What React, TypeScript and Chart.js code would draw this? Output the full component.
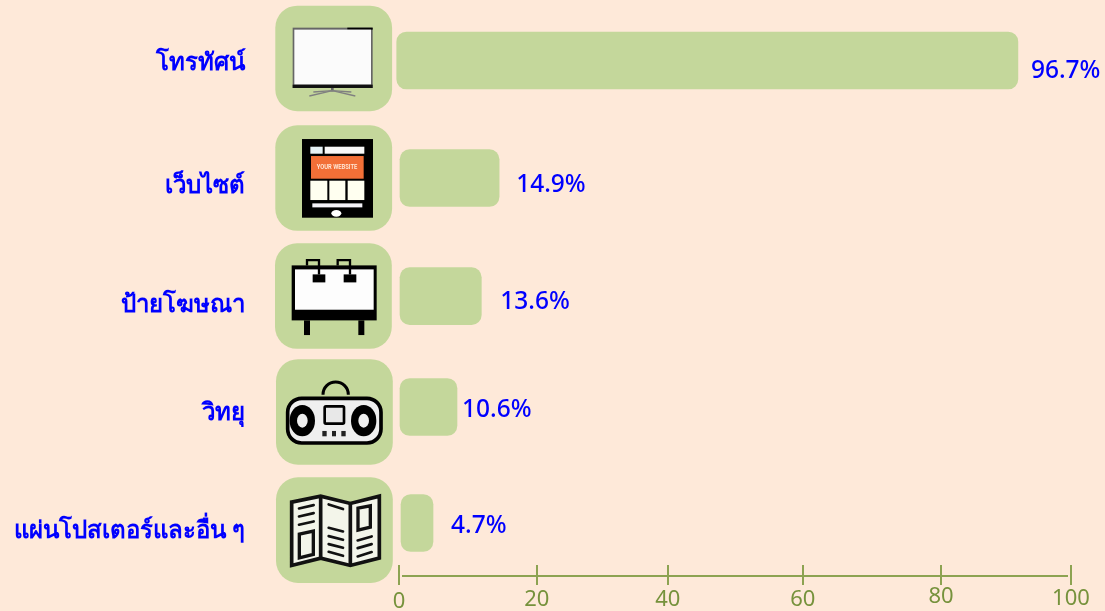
import React, { useEffect, useRef } from "react";
import { Chart, registerables } from "chart.js";

Chart.register(...registerables);

const categories = ["โทรทัศน์", "เว็บไซต์", "ป้ายโฆษณา", "วิทยุ", "แผ่นโปสเตอร์และอื่น ๆ"];
const valueLabels = ["96.7%", "14.9%", "13.6%", "10.6%", "4.7%"];
const barStarts = [-0.34, 0, 0, 0, 0.3];
const barEnds = [92.1, 14.9, 12.25, 8.63, 5.06];
const barRows = [0.017, 1.014, 2.015, 2.956, 3.94];
const tileRows = [0, 1.014, 2.015, 2.998, 4];
const labelRows = [0.042, 1.082, 2.091, 3.006, 4.008];
const axisTickValues = [0, 20.5, 40, 60.1, 80.65, 100];
const axisTickLabels = ["0", "20", "40", "60", "80", "100"];

const labelDx = [13, 17, 19, 5, 18];
const labelDy = [11, 7, 6, 3, 3];
const axisLabelDy = [2, 0, 0, 0, -3, -1];

const BG = "#FEE9D9";
const GREEN = "#C4D79B";
const AXIS = "#8DA352";
const AXIS_TEXT = "#76923C";
const FONT = "'Noto Sans', 'Open Sans', sans-serif";

type C = CanvasRenderingContext2D;

function poly(ctx: C, pts: number[][], close = false) {
  ctx.beginPath();
  pts.forEach((p, i) => (i ? ctx.lineTo(p[0], p[1]) : ctx.moveTo(p[0], p[1])));
  if (close) ctx.closePath();
}
function rect(ctx: C, x0: number, y0: number, x1: number, y1: number, color: string) {
  ctx.fillStyle = color;
  ctx.fillRect(x0, y0, x1 - x0, y1 - y0);
}

function drawTv(ctx: C) {
  rect(ctx, 68, 83, 308, 264, "#666");
  rect(ctx, 232, 83, 308, 89, "#000");
  rect(ctx, 73, 89, 303, 254, "#FBFBFB");
  rect(ctx, 68, 254, 308, 264, "#111");
  rect(ctx, 183, 264, 191, 274, "#666");
  ctx.strokeStyle = "#808080";
  ctx.lineWidth = 4;
  poly(ctx, [[118, 288], [187, 272], [256, 288]]);
  ctx.stroke();
  poly(ctx, [[130, 276], [187, 272], [244, 276]]);
  ctx.stroke();
}

function drawTablet(ctx: C) {
  rect(ctx, 96, 417, 309, 653, "#000");
  rect(ctx, 121, 440, 158, 461, "#E6F2F6");
  rect(ctx, 164, 440, 283, 461, "#F8F8F8");
  rect(ctx, 123, 468, 281, 536, "#F26F37");
  rect(ctx, 121, 542, 172, 600, "#FFFFF0");
  rect(ctx, 178, 542, 226, 600, "#FFFFF0");
  rect(ctx, 233, 542, 283, 600, "#FFFFF0");
  rect(ctx, 127, 610, 277, 622, "#F4F2F8");
  ctx.fillStyle = "#FFF";
  ctx.beginPath();
  ctx.ellipse(199, 640, 15, 10, 0, 0, Math.PI * 2);
  ctx.fill();
  ctx.fillStyle = "#FFE9D8";
  ctx.font = "600 20px 'Liberation Sans Narrow', 'Roboto', sans-serif";
  ctx.textAlign = "center";
  ctx.textBaseline = "middle";
  ctx.fillText("YOUR WEBSITE", 201, 502, 122);
}

function drawBillboard(ctx: C) {
  rect(ctx, 65, 91, 320, 256, "#000");
  rect(ctx, 75, 103, 311, 224, "#FDFDFD");
  rect(ctx, 102, 256, 120, 300, "#000");
  rect(ctx, 265, 256, 283, 300, "#000");
  ctx.strokeStyle = "#000";
  ctx.lineWidth = 7;
  poly(ctx, [[111, 91], [111, 75], [147, 75], [147, 118]]);
  ctx.stroke();
  poly(ctx, [[203, 91], [203, 75], [240, 75], [240, 118]]);
  ctx.stroke();
  rect(ctx, 128, 118, 166, 142, "#000");
  rect(ctx, 221, 118, 259, 142, "#000");
}

function drawRadio(ctx: C) {
  ctx.strokeStyle = "#000";
  ctx.lineWidth = 9;
  ctx.beginPath();
  ctx.arc(197, 479, 38, Math.PI, 0);
  ctx.stroke();
  ctx.fillStyle = "#EFEFEF";
  ctx.lineWidth = 11;
  ctx.beginPath();
  ctx.roundRect(53, 490, 280, 134, 42);
  ctx.fill();
  ctx.stroke();
  for (const cx of [97, 281]) {
    ctx.fillStyle = "#000";
    ctx.beginPath();
    ctx.ellipse(cx, 557, 38, 47, 0, 0, Math.PI * 2);
    ctx.fill();
    ctx.fillStyle = "#EFEFEF";
    ctx.beginPath();
    ctx.ellipse(cx, 557, 16, 21, 0, 0, Math.PI * 2);
    ctx.fill();
  }
  ctx.lineWidth = 8;
  ctx.fillStyle = "#E8E8E8";
  ctx.beginPath();
  ctx.roundRect(164, 514, 58, 52, 4);
  ctx.fill();
  ctx.stroke();
  rect(ctx, 157, 588, 170, 604, "#222");
  rect(ctx, 186, 588, 198, 604, "#222");
  rect(ctx, 214, 588, 227, 604, "#222");
}

function drawMap(ctx: C) {
  ctx.lineJoin = "miter";
  ctx.strokeStyle = "#111";
  ctx.fillStyle = "#F3F5EA";
  ctx.lineWidth = 11;
  poly(ctx, [[65, 96], [152, 78], [241, 100], [328, 78], [328, 264], [241, 286], [152, 264], [65, 286]], true);
  ctx.fill();
  ctx.stroke();
  poly(ctx, [[152, 78], [152, 264]]);
  ctx.stroke();
  poly(ctx, [[241, 100], [241, 286]]);
  ctx.stroke();
  ctx.lineCap = "round";
  ctx.lineWidth = 8;
  const lines = [
    [87, 115, 131, 105], [87, 139, 131, 129], [87, 164, 131, 154],
    [176, 103, 219, 117], [176, 173, 219, 184], [176, 198, 219, 209], [176, 222, 219, 233], [176, 245, 219, 257],
    [263, 211, 305, 199], [263, 234, 305, 222], [263, 259, 305, 246],
  ];
  for (const l of lines) {
    poly(ctx, [[l[0], l[1]], [l[2], l[3]]]);
    ctx.stroke();
  }
  ctx.lineWidth = 10;
  poly(ctx, [[88, 192], [130, 183], [130, 253], [88, 263]], true);
  ctx.stroke();
  poly(ctx, [[264, 114], [301, 107], [301, 171], [264, 180]], true);
  ctx.stroke();
}

const icons: [(ctx: C) => void, number][] = [
  [drawTv, 175.5],
  [drawTablet, 534],
  [drawBillboard, 183],
  [drawRadio, 531],
  [drawMap, 180],
];
const tileX = [275.3, 275.3, 275, 276, 276];

const decorPlugin = {
  id: "decor",
  beforeDraw(chart: any) {
    const items = chart.scales.x.getLabelItems(chart.chartArea);
    items.forEach((item: any, i: number) => {
      item.options.translation[1] += axisLabelDy[i];
    });
  },
  beforeDatasetsDraw(chart: any) {
    const ctx: C = chart.ctx;
    const yS = chart.scales.y;
    const xS = chart.scales.x;
    tileRows.forEach((row, i) => {
      const cy = yS.getPixelForValue(row);
      ctx.save();
      ctx.fillStyle = GREEN;
      ctx.beginPath();
      ctx.roundRect(tileX[i], cy - 52.8, 116.8, 105.6, 22);
      ctx.fill();
      ctx.restore();
      ctx.save();
      ctx.translate(270, cy);
      ctx.scale(1 / 3, 1 / 3);
      ctx.translate(0, -icons[i][1]);
      icons[i][0](ctx);
      ctx.restore();
    });
    ctx.save();
    ctx.strokeStyle = AXIS;
    ctx.lineWidth = 2;
    ctx.beginPath();
    ctx.moveTo(xS.getPixelForValue(0) + 3, chart.chartArea.bottom + 11);
    ctx.lineTo(xS.getPixelForValue(100) - 3, chart.chartArea.bottom + 11);
    ctx.stroke();
    ctx.restore();
  },
  afterDatasetsDraw(chart: any) {
    const ctx: C = chart.ctx;
    const bars = chart.getDatasetMeta(0).data;
    ctx.save();
    ctx.fillStyle = "#0000FF";
    ctx.font = `500 24.5px ${FONT}`;
    ctx.textAlign = "left";
    ctx.textBaseline = "middle";
    valueLabels.forEach((t, i) => {
      ctx.fillText(t, bars[i].x + labelDx[i], bars[i].y + labelDy[i]);
    });
    ctx.restore();
  },
};

export default function App() {
  const ref = useRef<HTMLCanvasElement>(null);
  useEffect(() => {
    const chart = new Chart(ref.current as HTMLCanvasElement, {
      type: "bar",
      plugins: [decorPlugin],
      data: {
        datasets: [
          {
            data: barRows.map((row, i) => ({ x: [barStarts[i], barEnds[i]], y: row })) as any,
            backgroundColor: GREEN,
            borderWidth: 0,
            borderSkipped: false,
            borderRadius: 10,
            barThickness: 57,
            clip: false as any,
          },
        ],
      },
      options: {
        indexAxis: "y",
        animation: false,
        responsive: false,
        events: [],
        layout: { padding: { top: 0, right: 34, bottom: 0, left: 0 } },
        plugins: { legend: { display: false }, tooltip: { enabled: false }, title: { display: false } },
        scales: {
          x: {
            type: "linear",
            min: 0,
            max: 100,
            afterBuildTicks: (s: any) => {
              s.ticks = axisTickValues.map((value) => ({ value }));
            },
            afterFit: (s: any) => {
              s.height = 46;
            },
            border: { display: false },
            grid: { drawOnChartArea: false, color: AXIS, lineWidth: 2, tickLength: 20, tickWidth: 2, tickColor: AXIS },
            ticks: {
              autoSkip: false,
              maxRotation: 0,
              padding: 2,
              color: AXIS_TEXT,
              font: { family: FONT, size: 22 },
              callback: (_v: any, i: number) => axisTickLabels[i],
            },
          },
          y: {
            type: "linear",
            reverse: true,
            offset: false,
            min: -0.496,
            max: 4.296,
            afterBuildTicks: (s: any) => {
              s.ticks = labelRows.map((value) => ({ value }));
            },
            afterFit: (s: any) => {
              s.width = 399;
              s.paddingTop = 0;
              s.paddingBottom = 0;
            },
            border: { display: false },
            grid: { display: true, drawOnChartArea: false, drawTicks: false, offset: false },
            ticks: {
              autoSkip: false,
              padding: 154,
              color: "#0000FF",
              font: { family: FONT, size: 24, weight: "bold" as any },
              callback: (_v: any, i: number) => categories[i],
            },
          },
        },
      },
    });
    return () => chart.destroy();
  }, []);
  return (
    <div style={{ position: "fixed", left: 0, top: 0, width: 1105, height: 611, background: BG }}>
      <canvas ref={ref} width={1105} height={611} style={{ display: "block" }} />
    </div>
  );
}
